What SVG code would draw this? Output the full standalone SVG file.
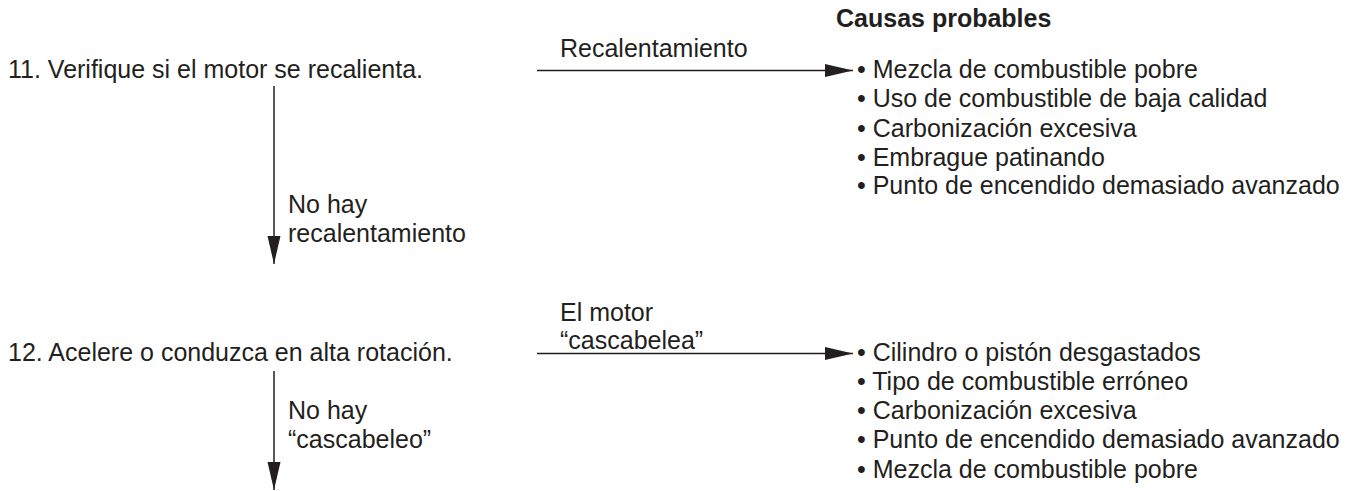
<svg xmlns="http://www.w3.org/2000/svg" width="1356" height="491" viewBox="0 0 1356 491">
<style>
text{font-family:"Liberation Sans",Arial,sans-serif;font-size:25px;fill:#231f20}
.b{font-weight:bold}
.ln{stroke:#231f20;stroke-width:1.5;fill:none}
</style>
<defs>
<marker id="ah" markerUnits="userSpaceOnUse" markerWidth="30" markerHeight="16" refX="28" refY="7" orient="auto" viewBox="0 0 30 16">
<path d="M0,0.5 L28,7 L0,13.5 Z" fill="#231f20"/>
</marker>
</defs>
<rect width="1356" height="491" fill="#fff"/>
<g id="connectors">
<line class="ln" x1="537" y1="70.5" x2="853" y2="70.5" marker-end="url(#ah)"/>
<line class="ln" x1="274" y1="86" x2="274" y2="264" marker-end="url(#ah)"/>
<line class="ln" x1="537" y1="353.5" x2="853" y2="353.5" marker-end="url(#ah)"/>
<line class="ln" x1="274" y1="371" x2="274" y2="490" marker-end="url(#ah)"/>
</g>
<g id="step11"><text x="8" y="78">11. Verifique si el motor se recalienta.</text></g>
<g id="step12"><text x="8" y="361">12. Acelere o conduzca en alta rotación.</text></g>
<g id="label-recalentamiento"><text x="560" y="57">Recalentamiento</text></g>
<g id="label-no-recalentamiento"><text x="288" y="213">No hay</text><text x="288" y="242">recalentamiento</text></g>
<g id="label-cascabelea"><text x="560" y="321">El motor</text><text x="560" y="349">“cascabelea”</text></g>
<g id="label-no-cascabeleo"><text x="288" y="419">No hay</text><text x="288" y="448">“cascabeleo”</text></g>
<g id="header"><text class="b" x="836" y="27">Causas probables</text></g>
<g id="causes1">
<text x="857" y="78">• Mezcla de combustible pobre</text>
<text x="857" y="107">• Uso de combustible de baja calidad</text>
<text x="857" y="137">• Carbonización excesiva</text>
<text x="857" y="166">• Embrague patinando</text>
<text x="857" y="194">• Punto de encendido demasiado avanzado</text>
</g>
<g id="causes2">
<text x="857" y="361">• Cilindro o pistón desgastados</text>
<text x="857" y="390">• Tipo de combustible erróneo</text>
<text x="857" y="419">• Carbonización excesiva</text>
<text x="857" y="448">• Punto de encendido demasiado avanzado</text>
<text x="857" y="478">• Mezcla de combustible pobre</text>
</g>
</svg>
